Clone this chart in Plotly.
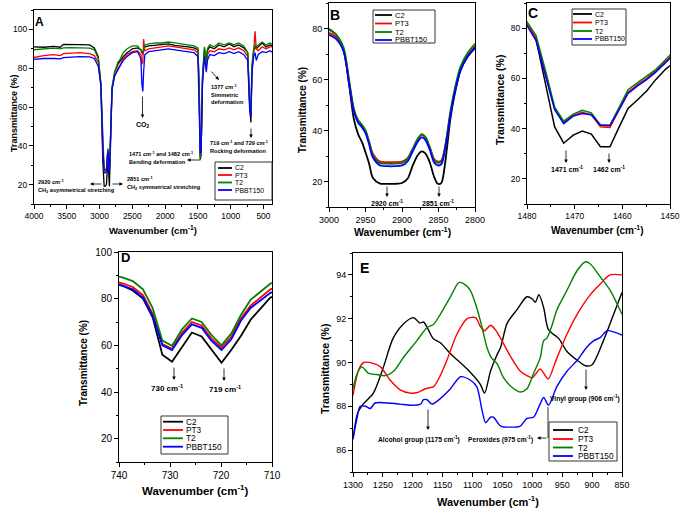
import plotly.graph_objects as go

SERIES = ["C2", "PT3", "T2", "PBBT150"]
COLORS = {"C2": "#000000", "PT3": "#ff0000", "T2": "#008000", "PBBT150": "#0000ff"}
FONT = "Liberation Sans"

# ---------------- Panel A (full spectrum) ----------------
wn_A = [4000, 3850, 3700, 3600, 3550, 3450, 3300, 3150, 3080, 3020,
        2980, 2950, 2930, 2915, 2895, 2880, 2872, 2860, 2850, 2838,
        2810, 2770, 2720, 2680, 2640, 2580, 2500, 2420, 2370, 2355,
        2340, 2328, 2310, 2250, 2150, 2050, 1950, 1850, 1750, 1650,
        1560, 1500, 1480, 1465, 1452, 1430, 1400, 1385, 1372, 1355,
        1320, 1250, 1180, 1100, 1020, 950, 880, 800, 740, 710,
        692, 675, 650, 628, 610, 580, 520, 460, 400, 350]
A_C2 = [91, 90.8, 91.2, 90.8, 92.3, 92.4, 92.2, 92.0, 90.5, 86,
        71.5, 31.5, 19.2, 19.1, 20, 29, 31.8, 26, 19.1, 34,
        69, 78, 82, 84, 86, 88, 90, 90.5, 89.5, 88,
        87.5, 89, 91, 91.5, 91.8, 92, 92.5, 91.8, 91.5, 91,
        90.5, 89.5, 70, 33, 35, 75, 90, 86, 82, 89,
        91, 90, 92, 91, 92.5, 91, 92, 90.5, 88, 60,
        52, 80, 89, 91, 90, 91, 93, 91, 92, 91]
A_PT3 = [85.5, 86.5, 87, 86.5, 87.5, 87.8, 88, 87.5, 86.5, 83,
         71.5, 39.8, 27.8, 27.6, 28.3, 35.5, 38.2, 32, 27.8, 38.5,
         69.5, 76, 80, 82, 85, 87, 88.5, 89, 87, 82,
         83, 95, 89, 90, 90.5, 91, 91.5, 91, 90.5, 90,
         89.5, 88, 68, 34, 36, 74, 88, 85, 81, 87,
         89, 88.5, 90, 89.5, 90.5, 89.5, 90.5, 89, 86, 62,
         56, 80, 88, 99, 90, 89, 91, 90, 91, 91]
A_T2 = [89.5, 89.8, 90.3, 90, 90.5, 90.6, 90.5, 90.3, 89.5, 85,
        72.5, 40, 27.2, 27, 27.5, 35.5, 38.6, 32, 27.3, 39,
        70.5, 78, 83, 85, 88, 90, 91.5, 91.5, 89.5, 88.5,
        88, 89.5, 92, 92.5, 93, 93, 93.5, 93, 92.5, 92,
        91.5, 90.5, 70, 34, 36, 76, 91, 87, 83, 90,
        92, 91, 93, 92, 93, 92, 93, 91.5, 88, 62,
        58, 82, 90, 92, 91, 92, 93.5, 92, 93, 92]
A_PBBT150 = [84.5, 85, 85, 84.8, 85.5, 85.8, 86, 85.8, 85, 81,
             71, 39, 26.3, 26, 26.5, 34.5, 37.3, 31, 26.3, 37.5,
             69, 76, 79, 81, 84, 86, 88, 88.5, 85, 72,
             68, 78, 87, 88.5, 89, 89.5, 90, 89.5, 89, 88.5,
             88, 86, 62, 36, 37, 72, 86, 82, 78, 84,
             87, 86.5, 88, 87.5, 88.5, 87.5, 88.5, 87, 84, 58,
             55, 78, 86, 88, 84, 87, 88.5, 88, 89, 88]

# ---------------- Panel B (3000-2800) ----------------
wn_B = [3000, 2990, 2980, 2972, 2966, 2960, 2955, 2950, 2945, 2940,
        2930, 2920, 2910, 2900, 2892, 2885, 2878, 2873, 2868, 2862,
        2856, 2851, 2846, 2842, 2838, 2834, 2828, 2820, 2810, 2800]
B_C2 = [79.8, 77.5, 71.5, 57, 44.5, 38.5, 35.5, 31.5, 27, 21.5,
        19.2, 19.1, 19.1, 19.4, 21.3, 26.5, 30.5, 31.8, 31, 27.5,
        21.8, 19.1, 19.5, 25, 34, 44, 54, 63.5, 69, 72.3]
B_PT3 = [78.3, 76.5, 71.5, 58, 48, 43.8, 42, 39.8, 35.5, 31,
         27.8, 27.6, 27.6, 27.8, 29.3, 33, 36.8, 38.2, 37.2, 33.5,
         28.8, 27.8, 28.3, 32, 38.5, 46, 55, 64, 69.5, 73]
B_T2 = [79.5, 77.5, 72.5, 59, 48.5, 44, 42.3, 40, 35.5, 30.5,
        27.2, 27, 27, 27.3, 29, 33, 37, 38.6, 37.5, 33.5,
        28.5, 27.3, 27.8, 32, 39, 47, 56, 65, 70.5, 74]
B_PBBT150 = [77.5, 75.8, 71, 57.5, 47.5, 43, 41.3, 39, 34.5, 29.5,
             26.3, 26, 26, 26.3, 28, 32, 35.8, 37.3, 36.3, 32.5,
             27.5, 26.3, 26.8, 31, 37.5, 45.5, 54.5, 63.5, 69, 72.5]

# ---------------- Panel C (1480-1450) ----------------
wn_C = [1481.9, 1480.0, 1478.1, 1476.1, 1474.2, 1472.3, 1470.3, 1468.4, 1466.5,
        1464.6, 1462.6, 1460.7, 1458.8, 1456.8, 1454.9, 1453.0, 1451.0, 1449.1]
C_C2 = [83, 81.5, 75.5, 58, 40.7, 34.2, 37.4, 39, 37.8,
        32.8, 32.8, 40.5, 48, 51.5, 55, 59.5, 63.5, 66.5]
C_PT3 = [82.5, 81.5, 76, 62, 48, 42.5, 45.3, 46.5, 45.5,
         40.7, 40.5, 47.5, 54.5, 57.5, 60, 63, 66.5, 70]
C_T2 = [84, 82.5, 77, 63, 48.5, 43, 45.8, 47.3, 46.3,
        41.5, 41.3, 48.5, 55.5, 58.3, 60.8, 63.5, 67.3, 71]
C_PBBT150 = [82, 81, 75, 61, 47.5, 42, 45, 46, 45.5,
             41.3, 41.2, 47.5, 54, 57, 59.5, 62.5, 66, 69.5]

# ---------------- Panel D (740-710) ----------------
wn_D = [741.1, 739.2, 737.3, 735.3, 733.4, 731.5, 729.6, 727.6, 725.7,
        723.8, 721.9, 719.9, 718.0, 716.1, 714.2, 712.2, 710.3, 708.4]
D_C2 = [86.5, 85.5, 83.5, 80, 72, 56, 53, 59.5, 65.5,
        63.8, 58.5, 52.5, 58, 64, 71, 76, 80.5, 82]
D_PT3 = [87.5, 86.5, 85, 81.5, 73.5, 60.5, 58.5, 65.5, 70,
         68.5, 63, 59, 63.5, 71.5, 77, 80.5, 84, 85.5]
D_T2 = [90, 89, 87.5, 84, 76, 62, 59.8, 67, 71.5,
        70, 64.5, 60, 65, 73, 79.5, 83, 86.5, 88]
D_PBBT150 = [86.5, 85.5, 84, 80.5, 72.5, 60, 58, 64.5, 69,
             67.5, 62, 58, 62.5, 70.5, 76, 79.5, 82.5, 84]

# ---------------- Panel E (1300-850) ----------------
E_C2_x = [1300, 1292, 1283, 1266, 1249, 1233, 1216, 1199, 1188, 1182, 1174, 1166,
          1154, 1137, 1109, 1087, 1080, 1070, 1060, 1053, 1042, 1026, 1009, 1000,
          995, 989, 981, 973, 956, 942, 925, 911, 900, 881, 864, 850]
E_C2_y = [86.5, 87.7, 88.1, 88.6, 89.8, 91.1, 91.75, 92.05, 91.8, 91.85, 91.5, 91.1,
          90.9, 90.4, 89.7, 89.0, 88.6, 89.6, 90.3, 90.7, 91.8, 92.4, 93.0, 92.9,
          92.75, 93.1, 92.5, 91.5, 91.1, 90.5, 90.1, 89.85, 89.9, 91.0, 92.2, 93.2]
E_PT3_x = [1300, 1290, 1282, 1265, 1254, 1238, 1221, 1204, 1190, 1179, 1171, 1165,
           1154, 1143, 1126, 1109, 1095, 1087, 1080, 1070, 1062, 1053, 1037, 1020,
           1009, 1000, 987, 976, 973, 959, 942, 925, 903, 886, 870, 850]
E_PT3_y = [88.5, 89.7, 90.0, 89.95, 89.8, 89.2, 88.75, 88.6, 88.65, 88.8, 88.85, 88.9,
           89.4, 90.1, 91.3, 92.0, 92.05, 91.65, 91.45, 91.7, 91.5, 91.1, 90.3, 89.6,
           89.4, 89.3, 89.7, 89.3, 89.25, 90.2, 91.3, 92.2, 93.1, 93.6, 94.0, 94.0]
E_T2_x = [1300, 1293, 1285, 1274, 1260, 1246, 1232, 1215, 1193, 1176, 1165, 1154,
          1137, 1123, 1115, 1104, 1093, 1084, 1076, 1068, 1059, 1048, 1031, 1020,
          1009, 998, 987, 981, 976, 967, 959, 942, 925, 911, 903, 886, 870, 850]
E_T2_y = [88.8, 89.5, 89.8, 89.5, 89.45, 89.4, 89.6, 90.25, 91.0, 91.6, 91.75, 92.2,
          93.0, 93.65, 93.6, 93.3, 92.5, 91.6, 90.7, 90.2, 89.95, 89.3, 88.8, 88.65,
          88.8, 89.5, 90.2, 91.0, 91.1, 91.7, 92.4, 93.3, 94.2, 94.6, 94.5, 93.9, 93.3, 92.2]
E_PBBT150_x = [1300, 1293, 1288, 1279, 1271, 1263, 1243, 1221, 1204, 1187, 1182, 1176,
               1168, 1154, 1137, 1120, 1104, 1093, 1084, 1078, 1070, 1065, 1053, 1037,
               1020, 1009, 998, 987, 981, 973, 959, 942, 925, 909, 897, 886, 875, 864, 850]
E_PBBT150_y = [86.5, 87.5, 88.0, 88.0, 87.9, 88.15, 88.15, 88.1, 88.05, 88.1, 88.3, 88.3,
               88.1, 88.35, 88.8, 89.35, 89.2, 88.9, 87.8, 87.25, 87.5, 87.5, 87.1, 87.05,
               87.1, 87.45, 87.5, 88.1, 88.4, 88.05, 88.9, 89.6, 90.1, 90.7, 91.0, 91.15,
               91.45, 91.4, 91.25]

W, H = 680, 510


def X(px):
    return px / W


def Y(py):
    return 1 - py / H


fig = go.Figure()

panel_data = {
    1: {s: (wn_A, v) for s, v in zip(SERIES, [A_C2, A_PT3, A_T2, A_PBBT150])},
    2: {s: (wn_B, v) for s, v in zip(SERIES, [B_C2, B_PT3, B_T2, B_PBBT150])},
    3: {s: (wn_C, v) for s, v in zip(SERIES, [C_C2, C_PT3, C_T2, C_PBBT150])},
    4: {s: (wn_D, v) for s, v in zip(SERIES, [D_C2, D_PT3, D_T2, D_PBBT150])},
    5: {"C2": (E_C2_x, E_C2_y), "PT3": (E_PT3_x, E_PT3_y),
        "T2": (E_T2_x, E_T2_y), "PBBT150": (E_PBBT150_x, E_PBBT150_y)},
}
line_style = {1: ("linear", 1.3), 2: ("spline", 1.8), 3: ("linear", 1.5),
              4: ("linear", 1.8), 5: ("spline", 1.4)}

for p, d in panel_data.items():
    shape, lw = line_style[p]
    for s in SERIES:
        xs, ys = d[s]
        fig.add_trace(go.Scatter(
            x=xs, y=ys, mode="lines", name=s, showlegend=False,
            line=dict(color=COLORS[s], width=lw, shape=shape, smoothing=0.8),
            xaxis="x" if p == 1 else f"x{p}", yaxis="y" if p == 1 else f"y{p}",
            hoverinfo="skip"))

# panel geometry (pixel boxes) and axis settings
panels = {
    1: dict(box=(34, 10, 272, 204), xr=[4000, 370], yr=[10, 110], xd=500, xm=250, yd=20, ym=10, fs=8.5),
    2: dict(box=(329, 3, 475, 207), xr=[3000, 2800], yr=[10, 90], xd=50, xm=25, yd=20, ym=10, fs=9),
    3: dict(box=(527, 3, 670, 204), xr=[1480, 1450], yr=[10, 90], xd=10, xm=5, yd=20, ym=10, fs=8.5),
    4: dict(box=(119, 252, 272, 462), xr=[740, 710], yr=[10, 100], xd=10, xm=5, yd=20, ym=10, fs=10),
    5: dict(box=(353, 253, 622, 472), xr=[1300, 850], yr=[85, 95], xd=50, xm=25, yd=2, ym=1, fs=9),
}

layout = {}
for p, c in panels.items():
    x0, y0, x1, y1 = c["box"]
    xn = "xaxis" if p == 1 else f"xaxis{p}"
    yn = "yaxis" if p == 1 else f"yaxis{p}"
    xa = "x" if p == 1 else f"x{p}"
    ya = "y" if p == 1 else f"y{p}"
    common = dict(showline=True, linecolor="black", linewidth=1, mirror=True,
                  ticks="outside", ticklen=4, tickwidth=1, tickcolor="black",
                  showgrid=False, zeroline=False, automargin=False,
                  tickfont=dict(family=FONT, size=c["fs"], color="black"))
    layout[xn] = dict(domain=[X(x0), X(x1)], range=c["xr"], anchor=ya,
                      tick0=0, dtick=c["xd"],
                      minor=dict(dtick=c["xm"], tick0=0, ticks="outside", ticklen=2,
                                 tickcolor="black", showgrid=False), **common)
    layout[yn] = dict(domain=[Y(y1), Y(y0)], range=c["yr"], anchor=xa,
                      tick0=0, dtick=c["yd"],
                      minor=dict(dtick=c["ym"], tick0=0, ticks="outside", ticklen=2,
                                 tickcolor="black", showgrid=False), **common)
    # inward ticks on the top and right edges (Origin style frame)
    n = p + 5
    mirror_common = dict(showline=False, showticklabels=False, ticks="inside", ticklen=4,
                         tickwidth=1, tickcolor="black", showgrid=False, zeroline=False,
                         automargin=False)
    layout[f"xaxis{n}"] = dict(overlaying=xa, side="top", anchor=ya, range=c["xr"],
                               tick0=0, dtick=c["xd"],
                               minor=dict(dtick=c["xm"], tick0=0, ticks="inside", ticklen=2,
                                          tickcolor="black", showgrid=False), **mirror_common)
    layout[f"yaxis{n}"] = dict(overlaying=ya, side="right", anchor=xa, range=c["yr"],
                               tick0=0, dtick=c["yd"],
                               minor=dict(dtick=c["ym"], tick0=0, ticks="inside", ticklen=2,
                                          tickcolor="black", showgrid=False), **mirror_common)

annotations = []
shapes = []


def txt(x, y, text, size, bold=True, xanchor="center", yanchor="middle", angle=0):
    annotations.append(dict(
        x=X(x), y=Y(y), xref="paper", yref="paper", text=f"<b>{text}</b>" if bold else text,
        showarrow=False, xanchor=xanchor, yanchor=yanchor, textangle=angle,
        font=dict(family=FONT, size=size, color="black"), align="left"))


def arrow(x0, y0, x1, y1):
    annotations.append(dict(
        x=X(x1), y=Y(y1), xref="paper", yref="paper", ax=x0 - x1, ay=y0 - y1,
        axref="pixel", ayref="pixel", text="", showarrow=True,
        arrowhead=2, arrowsize=0.9, arrowwidth=0.8, arrowcolor="black", standoff=0))


def legend(box, ys, lx0, lx1, tx, fs, lw=1.8):
    bx0, by0, bx1, by1 = box
    shapes.append(dict(type="rect", xref="paper", yref="paper", x0=X(bx0), x1=X(bx1),
                       y0=Y(by1), y1=Y(by0), line=dict(color="#333333", width=1),
                       fillcolor="white", layer="above"))
    for s, y in zip(SERIES, ys):
        shapes.append(dict(type="line", xref="paper", yref="paper", x0=X(lx0), x1=X(lx1),
                           y0=Y(y), y1=Y(y), line=dict(color=COLORS[s], width=lw), layer="above"))
        txt(tx, y, s, fs, bold=False, xanchor="left")


# panel letters
txt(39, 22, "A", 12)
txt(335, 15, "B", 14)
txt(533, 13, "C", 14)
txt(125, 257, "D", 13)
txt(364, 268, "E", 14)

# axis titles
WN = "Wavenumber (cm<sup>-1</sup>)"
TR = "Transmittance (%)"
txt(14, 113, TR, 9, angle=-90)
txt(153, 230, WN, 9.5)
txt(302, 110, TR, 10, angle=-90)
txt(402, 232, WN, 10.5)
txt(500, 100, TR, 10.5, angle=-90)
txt(597, 230, WN, 10)
txt(83, 363, TR, 10, angle=-90)
txt(195, 490, WN, 11.5)
txt(325, 369, TR, 10.5, angle=-90)
txt(488, 501, WN, 11)

# panel A labels
SA = 5.6
txt(143, 125, "CO<sub>2</sub>", 7)
arrow(142.5, 95, 142.5, 118)
txt(209, 94, "1377 cm<sup>-1</sup><br>Simmetric<br>deformation", SA, xanchor="left")
arrow(210, 70, 219, 80)
txt(208, 146, "719 cm<sup>-1</sup> and 729 cm<sup>-1</sup><br>Rocking deformation", SA, xanchor="left")
arrow(251, 127, 251, 138)
txt(127, 157, "1471 cm<sup>-1</sup> and 1482 cm<sup>-1</sup><br>Bending deformation", SA, xanchor="left")
arrow(202, 160, 187, 160)
txt(36, 186, "2920 cm<sup>-1</sup><br>CH<sub>2</sub> asymmetrical stretching", SA, xanchor="left")
arrow(103, 184, 90, 184)
txt(125, 183, "2851 cm<sup>-1</sup><br>CH<sub>2</sub> symmetrical stretching", SA, xanchor="left")
arrow(111, 184, 123, 184)

# panel B labels
arrow(387, 185, 387, 197)
txt(387, 203, "2920 cm<sup>-1</sup>", 7)
arrow(439, 185, 439, 197)
txt(438, 203, "2851 cm<sup>-1</sup>", 7)

# panel C labels
arrow(566, 149, 566, 163)
txt(567, 169, "1471 cm<sup>-1</sup>", 7)
arrow(609, 152, 609, 163)
txt(609, 169, "1462 cm<sup>-1</sup>", 7)

# panel D labels
arrow(174, 366, 174, 380)
txt(167, 388, "730 cm<sup>-1</sup>", 8)
arrow(224, 367, 224, 381)
txt(225, 389, "719 cm<sup>-1</sup>", 8)

# panel E labels
SE = 6.7
arrow(428, 408, 428, 430)
txt(419, 439, "Alcohol group (1175 cm<sup>-1</sup>)", SE)
shapes.append(dict(type="line", xref="paper", yref="paper", x0=X(548), x1=X(548),
                   y0=Y(407), y1=Y(438), line=dict(color="black", width=0.8)))
arrow(548, 438, 537, 438)
txt(500, 439, "Peroxides (975 cm<sup>-1</sup>)", SE)
arrow(586, 368, 586, 390)
txt(585, 398, "Vinyl group (906 cm<sup>-1</sup>)", SE)

# legends
legend((215, 162, 272, 200), [168, 175, 182.5, 190], 218, 232, 233, 6.8)
legend((373, 10, 435, 43), [15, 23.5, 32, 40], 375, 392, 393, 7.5)
legend((572, 9, 626, 45), [14, 22.5, 31, 39], 573, 592, 593, 7)
legend((161, 416, 228, 454), [421.7, 430, 438.3, 446.7], 163, 183, 184, 8.3)
legend((549, 422, 617, 461), [430, 439, 447.5, 456], 553, 573, 576, 8.3)

fig.update_layout(
    width=W, height=H, margin=dict(l=0, r=0, t=0, b=0, pad=0, autoexpand=False),
    paper_bgcolor="white", plot_bgcolor="white",
    showlegend=False, annotations=annotations, shapes=shapes,
    font=dict(family=FONT, color="black"),
    **layout)

fig.write_html("out.html", config={"displayModeBar": False},
               post_script="document.body.style.margin='0px';document.body.style.overflow='hidden';")
